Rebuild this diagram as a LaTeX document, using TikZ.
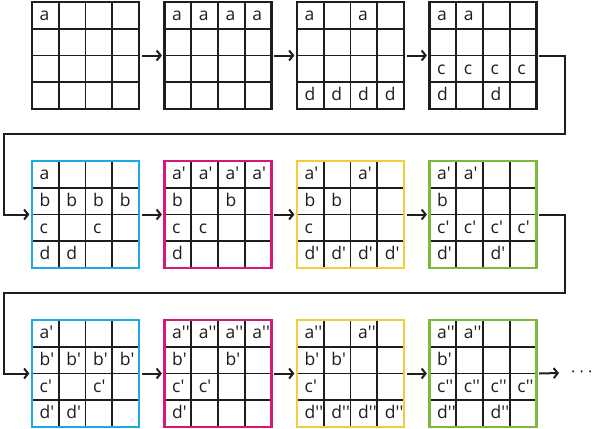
\documentclass[tikz,border=0pt]{standalone}
\usepackage{fontspec}
\setmainfont{Open Sans}
\usetikzlibrary{arrows.meta}
\definecolor{cblue}{RGB}{27,170,226}
\definecolor{cmag}{RGB}{214,25,120}
\definecolor{cyel}{RGB}{242,205,55}
\definecolor{cgreen}{RGB}{125,185,60}
\definecolor{ink}{RGB}{30,30,30}
\newcommand\p{\textquotesingle}
\tikzset{
  gridbox/.style={rectangle, minimum width=107pt, minimum height=107pt, inner sep=0pt, outer sep=2.6pt, line width=2.6pt},
  gridline/.style={draw=ink, line width=1.6pt},
  cell/.style={anchor=base west, inner sep=0pt, text=ink, font=\fontsize{17.5}{20}\selectfont},
  arr/.style={draw=ink, line width=2pt, -{Straight Barb[length=4pt,width=10pt]}},
}
% #1 name, #2 x, #3 y, #4 colour, #5-#8 rows
\newcommand\mygrid[8]{%
  \node[gridbox, draw=#4] (#1) at (#2+53.5,#3+53.5) {};
  \foreach \k in {1,2,3}{
    \draw[gridline] (#2+\k*26.75,#3+1.3) -- (#2+\k*26.75,#3+105.7);
    \draw[gridline] (#2+1.3,#3+\k*26.75) -- (#2+105.7,#3+\k*26.75);
  }
  \foreach \rw [count=\r] in {{#5},{#6},{#7},{#8}}{
    \foreach \t [count=\c] in \rw {
      \ifx\t\empty\else
        \node[cell] (#1-\r-\c) at (#2+\c*26.75-19.25,#3+\r*26.75-8.2) {\t};
      \fi
    }
  }
}
\begin{document}
\begin{tikzpicture}[x=1pt,y=-1pt]
\useasboundingbox (0,0) rectangle (593,428);
% row 1
\mygrid{g1}{32}{2}{ink}{a,,,}{,,,}{,,,}{,,,}
\mygrid{g2}{164.5}{2}{ink}{a,a,a,a}{,,,}{,,,}{,,,}
\mygrid{g3}{297}{2}{ink}{a,,a,}{,,,}{,,,}{d,d,d,d}
\mygrid{g4}{429.5}{2}{ink}{a,a,,}{,,,}{c,c,c,c}{d,,d,}
% row 2
\mygrid{g5}{32}{161}{cblue}{a,,,}{b,b,b,b}{c,,c,}{d,d,,}
\mygrid{g6}{164.5}{161}{cmag}{a\p,a\p,a\p,a\p}{b,,b,}{c,c,,}{d,,,}
\mygrid{g7}{297}{161}{cyel}{a\p,,a\p,}{b,b,,}{c,,,}{d\p,d\p,d\p,d\p}
\mygrid{g8}{429.5}{161}{cgreen}{a\p,a\p,,}{b,,,}{c\p,c\p,c\p,c\p}{d\p,,d\p,}
% row 3
\mygrid{g9}{32}{320}{cblue}{a\p,,,}{b\p,b\p,b\p,b\p}{c\p,,c\p,}{d\p,d\p,,}
\mygrid{g10}{164.5}{320}{cmag}{a\p\p,a\p\p,a\p\p,a\p\p}{b\p,,b\p,}{c\p,c\p,,}{d\p,,,}
\mygrid{g11}{297}{320}{cyel}{a\p\p,,a\p\p,}{b\p,b\p,,}{c\p,,,}{d\p\p,d\p\p,d\p\p,d\p\p}
\mygrid{g12}{429.5}{320}{cgreen}{a\p\p,a\p\p,,}{b\p,,,}{c\p\p,c\p\p,c\p\p,c\p\p}{d\p\p,,d\p\p,}
% connectors
\draw[arr] (g1) -- (g2);
\draw[arr] (g2) -- (g3);
\draw[arr] (g3) -- (g4);
\draw[arr] (g5) -- (g6);
\draw[arr] (g6) -- (g7);
\draw[arr] (g7) -- (g8);
\draw[arr] (g9) -- (g10);
\draw[arr] (g10) -- (g11);
\draw[arr] (g11) -- (g12);
\coordinate (r1) at (565,134);
\coordinate (l1) at (4,134);
\coordinate (r2) at (565,293);
\coordinate (l2) at (4,293);
\draw[arr] (g4.east) -| (r1) -- (l1) |- (g5.west);
\draw[arr] (g8.east) -| (r2) -- (l2) |- (g9.west);
\node[anchor=west, inner xsep=12pt, inner ysep=0pt, text height=9pt, text depth=0pt, text=ink, font=\fontsize{16}{18}\selectfont] (dots) at (559,373) {· · ·};
\draw[arr] (g12.east) -- (dots.west);
\end{tikzpicture}
\end{document}
